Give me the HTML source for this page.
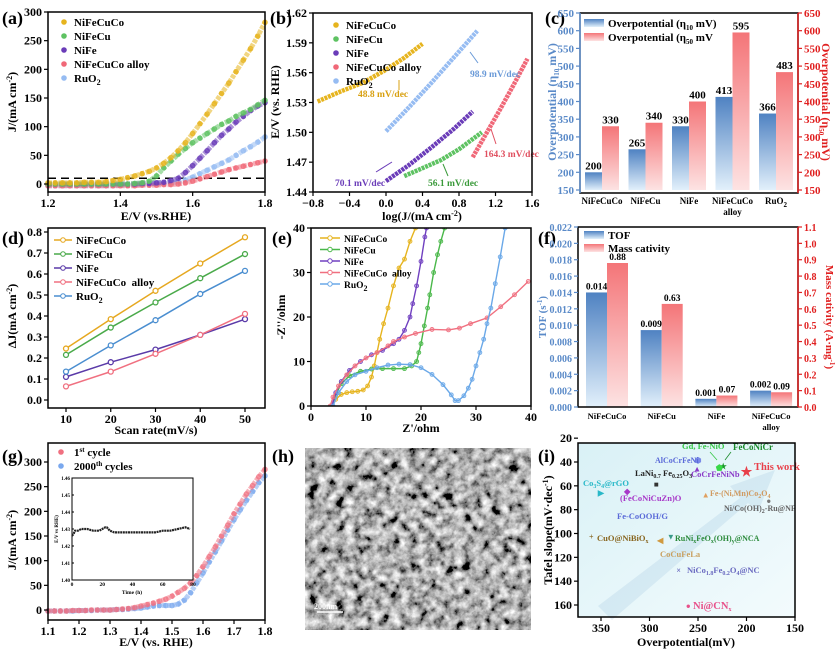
<!DOCTYPE html>
<html><head><meta charset="utf-8">
<style>
html,body{margin:0;padding:0;background:#fff;}
svg{display:block;font-family:"Liberation Serif",serif;font-weight:bold;}
text{font-family:"Liberation Serif",serif;font-weight:bold;}
</style></head>
<body>
<svg id="fig" width="836" height="652" viewBox="0 0 836 652" xmlns="http://www.w3.org/2000/svg">
<defs>
<linearGradient id="gBlue" x1="0" y1="0" x2="0" y2="1"><stop offset="0" stop-color="#4f82c2"/><stop offset="1" stop-color="#e2f0fb"/></linearGradient>
<linearGradient id="gPink" x1="0" y1="0" x2="0" y2="1"><stop offset="0" stop-color="#f47578"/><stop offset="1" stop-color="#fde3e3"/></linearGradient>
<linearGradient id="gBg" x1="0" y1="0" x2="1" y2="1"><stop offset="0" stop-color="#d9f1f6"/><stop offset="1" stop-color="#f3fbfd"/></linearGradient>
<filter id="sem" x="0" y="0" width="100%" height="100%">
<feTurbulence type="fractalNoise" baseFrequency="0.11" numOctaves="4" seed="7"/>
<feColorMatrix type="matrix" values="0.33 0.33 0.33 0 0  0.33 0.33 0.33 0 0  0.33 0.33 0.33 0 0  0 0 0 0 1"/>
<feComponentTransfer><feFuncR type="linear" slope="3.0" intercept="-1.05"/><feFuncG type="linear" slope="3.0" intercept="-1.05"/><feFuncB type="linear" slope="3.0" intercept="-1.05"/></feComponentTransfer>
</filter>
</defs>
</svg>
<script>
// ---------- data ----------
const aE=[1.20,1.22,1.24,1.26,1.28,1.30,1.32,1.34,1.36,1.38,1.40,1.42,1.44,1.46,1.48,1.50,1.52,1.54,1.56,1.58,1.60,1.62,1.64,1.66,1.68,1.70,1.72,1.74,1.76,1.78,1.80];
const aNiFeCuCo=[2,2,2,2,2,3,3,3,4,6,8,11,14,18,22,28,36,46,58,72,88,105,122,140,158,176,196,216,236,258,282];
const aNiFeCu=[0,0,0,0,0,0,0,0,0,0,0,0,1,2,5,14,28,40,52,62,72,80,88,96,104,110,118,124,130,138,146];
const aNiFe=[0,0,0,0,0,0,0,0,0,0,0,0,0,1,1,2,3,6,10,20,32,45,58,72,85,96,108,118,128,136,142];
const aAlloy=[-3,-3,-3,-3,-3,-3,-3,-3,-3,-3,-3,-3,-3,-2,-2,-2,-1,-1,0,2,5,9,13,17,21,25,28,31,34,37,40];
const aRuO2=[-3,-3,-3,-3,-3,-3,-3,-3,-3,-3,-2,-2,-1,-1,0,1,1,2,4,7,12,18,24,30,36,42,50,58,65,73,82];

const bNiFeCuCoX=[-0.75,-0.5,-0.25,0,0.2,0.4], bNiFeCuCoY=[1.531,1.541,1.550,1.563,1.575,1.589];
const bRuO2X=[0,0.25,0.5,0.75,1.0], bRuO2Y=[1.501,1.525,1.550,1.576,1.602];
const bNiFeX=[0,0.25,0.5,0.75,0.95], bNiFeY=[1.451,1.467,1.485,1.504,1.521];
const bNiFeCuX=[0.2,0.4,0.6,0.8,1.05], bNiFeCuY=[1.456,1.464,1.472,1.483,1.500];
const bAlloyX=[0.95,1.1,1.25,1.4,1.55], bAlloyY=[1.475,1.499,1.523,1.548,1.574];

const cCats=["NiFeCuCo","NiFeCu","NiFe","NiFeCuCo","RuO2"];
const cEta10=[200,265,330,413,366];
const cEta50=[330,340,400,595,483];

const dScan=[10,20,30,40,50];
const dNiFeCuCo=[0.245,0.385,0.52,0.65,0.775];
const dNiFeCu=[0.215,0.345,0.465,0.58,0.695];
const dNiFe=[0.11,0.18,0.24,0.31,0.385];
const dAlloy=[0.065,0.135,0.22,0.31,0.41];
const dRuO2=[0.135,0.26,0.38,0.505,0.615];

const eNiFeCuCo=[[3.8,0],[4.5,1.5],[5.5,2.6],[6.5,3],[7.5,3.2],[8.5,3.3],[9.5,3.6],[10.3,4.5],[11,6.5],[11.5,9],[12,12],[12.5,15],[13.2,18.5],[14,22],[15,27],[16,31],[17,33],[18,37],[19,40]];
const eNiFeCu=[[3.8,0],[4.5,2.5],[5.5,5],[7,6.8],[9,7.8],[11,8.3],[13,8.4],[15,8.4],[17,8.4],[18.3,9],[19.2,10],[19.6,12],[20,14],[20.6,18],[21.2,22],[21.6,25],[22.3,30],[23,34],[23.6,37],[24.3,40]];
const eNiFe=[[3.8,0],[4.5,3],[5.5,5.5],[7,8],[9,10],[11,11.5],[13,12.5],[15,14],[16,15],[17,17],[18,20],[18.5,23],[19.2,27],[20,32.5],[20.7,38],[21,40]];
const eAlloy=[[3.5,0],[4,2],[5,4.5],[6.5,7],[8,9],[10,10.8],[12,12],[14,13.5],[15,14.5],[17,15.5],[19,16.3],[22,17.2],[25,17.1],[27,17.5],[29,18.5],[32,19.8],[34.5,22.3],[37,25],[39.5,28]];
const eRuO2=[[4,0],[5,3],[6.5,5.5],[8,7],[10,7.8],[12,8.6],[14,9.2],[16,9.4],[18,9.3],[20,8.6],[22,7.1],[24,4.8],[25.5,2.5],[26.2,1.2],[26.8,1.2],[27.8,2.3],[28.6,4],[29.3,6],[30,9],[30.7,12],[31.4,15],[32,18.5],[32.7,22],[33.5,27.5],[34.4,33.5],[35.3,40]];

const fCats=["NiFeCuCo","NiFeCu","NiFe","NiFeCuCo"];
const fTOF=[0.014,0.0094,0.001,0.002];
const fTOFLab=["0.014","0.009","0.001","0.002"];
const fMass=[0.88,0.63,0.07,0.09];
const fMassLab=["0.88","0.63","0.07","0.09"];

const gE=[1.10,1.12,1.14,1.16,1.18,1.20,1.22,1.24,1.26,1.28,1.30,1.32,1.34,1.36,1.38,1.40,1.42,1.44,1.46,1.48,1.50,1.52,1.54,1.56,1.58,1.60,1.62,1.64,1.66,1.68,1.70,1.72,1.74,1.76,1.78,1.80];
const g1st=[-2,-2,-2,-2,-1,-1,-1,0,0,0,0,1,2,3,5,8,11,14,18,22,28,36,44,55,70,88,108,128,150,172,195,215,235,252,270,285];
const g2000=[-2,-2,-2,-2,-2,-1,-1,-1,0,0,0,1,1,2,3,4,6,8,9,9,9,12,20,35,55,75,97,118,140,162,183,203,222,240,258,272];
const gInT=[0,1,2,4,6,10,14,18,20,22,23,25,28,32,36,40,45,50,55,60,65,70,75,78];
const gInV=[1.426,1.427,1.429,1.429,1.430,1.430,1.429,1.429,1.430,1.431,1.431,1.429,1.428,1.428,1.428,1.428,1.428,1.428,1.428,1.429,1.429,1.430,1.431,1.430];

const iEta=[200,224,228,250,251,293,350,323,242,177,360,278,289,270,260];
const iTafel=[49,43,44,38,45,58,65,64,67,72,102,102,105,130,160];
const iGlyph=["★","★","⬟","⬢","▲","■","▶","◆","▲","●","+","▼","◀","×","●"];
const iColor=["#e8404a","#1a9a2a","#38d848","#7a8ae8","#8a3ac8","#333333","#28b8c8","#a838c8","#e0a060","#777777","#886620","#3a9a8a","#d09a40","#6a6ac0","#e8508a"];

// ---------- helpers ----------
const NS='http://www.w3.org/2000/svg';
const svg=document.getElementById('fig');
function el(tag,attrs,parent,txt){const e=document.createElementNS(NS,tag);for(const k in attrs)e.setAttribute(k,attrs[k]);if(txt!==undefined)e.textContent=txt;(parent||svg).appendChild(e);return e;}
function lin(d0,d1,r0,r1){return v=>r0+(v-d0)*(r1-r0)/(d1-d0);}
function grp(name){const g=el('g',{});return g;}
function frame(g,x0,y0,x1,y1){const r=el('rect',{x:x0,y:y0,width:x1-x0,height:y1-y0,fill:'none',stroke:'#000','stroke-width':1.5},g);}
function xTicks(g,sx,vals,labs,yb,fs,col){vals.forEach((v,i)=>{const x=sx(v);el('line',{x1:x,x2:x,y1:yb,y2:yb+4,stroke:col||'#000','stroke-width':1.2},g);const t=el('text',{x:x,y:yb+15,'text-anchor':'middle','font-size':fs||12,fill:col||'#000'},g,labs[i]);});}
function yTicks(g,sy,vals,labs,xl,side,fs,col){vals.forEach((v,i)=>{const y=sy(v);const d=side==='r'?4:-4;el('line',{x1:xl,x2:xl+d,y1:y,y2:y,stroke:col||'#000','stroke-width':1.2},g);const t=el('text',{x:xl+(side==='r'?6:-6),y:y+4,'text-anchor':side==='r'?'start':'end','font-size':fs||12,fill:col||'#000'},g,labs[i]);});}
function label(g,x,y,txt,fs,name,extra){const t=el('text',Object.assign({x:x,y:y,'font-size':fs},extra||{}),g);t.innerHTML=txt;return t;}
function rotLabel(g,x,y,txt,fs,name,col){return label(g,x,y,txt,fs,name,{transform:`rotate(-90 ${x} ${y})`,'text-anchor':'middle',fill:col||'#000'});}
function range(a,b,s){const r=[];for(let v=a;v<=b+1e-9;v+=s)r.push(+v.toFixed(6));return r;}
function beads(g,pts,col){const p=el('polyline',{points:pts,fill:'none',stroke:col,'stroke-width':5,'stroke-opacity':0.55,'stroke-dasharray':'4 1.2','stroke-linejoin':'round'},g);}

// ---------- (a) ----------
(function(){
const g=grp('panel-a-lsv');
const sx=lin(1.2,1.8,48,265), sy=lin(0,300,184,12);
label(g,2,24,'(a)',18,'panel-label-a');
const series=[[aNiFeCuCo,'#e6b41e','NiFeCuCo'],[aNiFeCu,'#5ec262','NiFeCu'],[aNiFe,'#6a3cb8','NiFe'],[aAlloy,'#f06878','NiFeCuCo alloy'],[aRuO2,'#96bcf2','RuO<tspan font-size="8" dy="3">2</tspan>']];
const dash=el('line',{x1:48,x2:265,y1:sy(10),y2:sy(10),stroke:'#000','stroke-width':1.5,'stroke-dasharray':'8 5'},g);


series.slice().reverse().forEach((s)=>{const sg=grp('series');g.appendChild(sg);beads(sg,s[0].map((v,i)=>sx(aE[i])+','+sy(v)).join(' '),s[1]);s[0].forEach((v,i)=>{const c=el('circle',{cx:sx(aE[i]),cy:sy(v),r:2.8,fill:s[1],'fill-opacity':0.85},sg);});});
series.forEach((s,k)=>{const ly=26+k*14;el('circle',{cx:64,cy:ly-4,r:2.8,fill:s[1]},g);label(g,74,ly,s[2],11,'legend-entry');});
frame(g,48,12,265,192);
xTicks(g,sx,[1.2,1.4,1.6,1.8],['1.2','1.4','1.6','1.8'],192,12);
yTicks(g,sy,range(0,300,50),range(0,300,50).map(String),48,'l',12);
label(g,156,220,'E/V (vs.RHE)',12,'x-axis-title',{'text-anchor':'middle'});
rotLabel(g,16,102,'J/(mA cm<tspan font-size="8" dy="-4">-2</tspan><tspan dy="4">)</tspan>',12,'y-axis-title');
})();

// ---------- (b) ----------
(function(){
const g=grp('panel-b-tafel');
const sx=lin(-0.8,1.6,313,532), sy=lin(1.44,1.62,192,13);
label(g,270,24,'(b)',18,'panel-label-b');
const ser=[[bNiFeCuCoX,bNiFeCuCoY,'#e6b41e','NiFeCuCo'],[bNiFeCuX,bNiFeCuY,'#5ec262','NiFeCu'],[bNiFeX,bNiFeY,'#6a3cb8','NiFe'],[bAlloyX,bAlloyY,'#f06878','NiFeCuCo alloy'],[bRuO2X,bRuO2Y,'#96bcf2','RuO<tspan font-size="8" dy="3">2</tspan>']];
ser.forEach((s,k)=>{const p=el('polyline',{points:s[0].map((x,i)=>sx(x)+','+sy(s[1][i])).join(' '),fill:'none',stroke:s[2],'stroke-width':4.5,'stroke-dasharray':'3 0.8'},g);
 const ly=29+k*14;el('circle',{cx:336,cy:ly-4,r:2.8,fill:s[2]},g);label(g,346,ly,s[3],11,'legend-entry');});
label(g,358,97,'48.8 mV/dec',9.5,'slope-annotation',{fill:'#d8a010'});
el('line',{x1:399,y1:80,x2:399,y2:90,stroke:'#d8a010','stroke-width':1},g);
label(g,470,77,'98.9 mV/dec',9.5,'slope-annotation',{fill:'#6a9ad8'});
el('line',{x1:470,y1:52,x2:478,y2:63,stroke:'#6a9ad8','stroke-width':1},g);
label(g,335,186,'70.1 mV/dec',9.5,'slope-annotation',{fill:'#6a3cb8'});
el('line',{x1:392,y1:162,x2:376,y2:172,stroke:'#6a3cb8','stroke-width':1},g);
label(g,428,186,'56.1 mV/dec',9.5,'slope-annotation',{fill:'#3a9a3a'});
el('line',{x1:443,y1:164,x2:448,y2:176,stroke:'#3a9a3a','stroke-width':1},g);
label(g,484,157,'164.3 mV/dec',9.5,'slope-annotation',{fill:'#e05060'});
el('line',{x1:491,y1:129,x2:496,y2:144,stroke:'#e05060','stroke-width':1},g);
frame(g,313,13,532,192);
xTicks(g,sx,[-0.8,-0.4,0,0.4,0.8,1.2,1.6],['−0.8','−0.4','0.0','0.4','0.8','1.2','1.6'],192,12);
yTicks(g,sy,[1.44,1.47,1.50,1.53,1.56,1.59,1.62],['1.44','1.47','1.50','1.53','1.56','1.59','1.62'],313,'l',12);
label(g,422,220,'log(J/(mA cm<tspan font-size="8" dy="-4">-2</tspan><tspan dy="4">)</tspan>',12,'x-axis-title',{'text-anchor':'middle'});
rotLabel(g,279,102,'E/V (vs. RHE)',12,'y-axis-title');
})();

// ---------- (c) ----------
(function(){
const g=grp('panel-c-overpotential');
const sy=lin(150,650,190,13); const cx=i=>602+i*43.5; const bw=17;
label(g,545,24,'(c)',18,'panel-label-c');
cCats.forEach((c,i)=>{
 let r=el('rect',{x:cx(i)-bw,y:sy(cEta10[i]),width:bw,height:190-sy(cEta10[i]),fill:'url(#gBlue)'},g);
 
 
 r=el('rect',{x:cx(i),y:sy(cEta50[i]),width:bw,height:190-sy(cEta50[i]),fill:'url(#gPink)'},g);
 
 
 label(g,cx(i)-bw/2,sy(cEta10[i])-3,String(cEta10[i]),11,'value-label',{'text-anchor':'middle'});
 label(g,cx(i)+bw/2,sy(cEta50[i])-3,String(cEta50[i]),11,'value-label',{'text-anchor':'middle'});
 const nm=c==='RuO2'?'RuO<tspan font-size="7" dy="3">2</tspan>':c;
 label(g,cx(i),204,nm,9,'category-label',{'text-anchor':'middle'});
});
label(g,cx(3),215,'alloy',9,'category-label',{'text-anchor':'middle'});
el('rect',{x:584,y:19,width:20,height:8,fill:'url(#gBlue)'},g);
label(g,608,27,'Overpotential (η<tspan font-size="7" dy="3">10</tspan><tspan dy="-3"> mV)</tspan>',11,'legend-entry');
el('rect',{x:584,y:33,width:20,height:8,fill:'url(#gPink)'},g);
label(g,608,41,'Overpotential (η<tspan font-size="7" dy="3">50</tspan><tspan dy="-3"> mV</tspan>',11,'legend-entry');
frame(g,580,13,798,193);
el('line',{x1:798,y1:13,x2:798,y2:193,stroke:'#e02020','stroke-width':1.5},g);
el('line',{x1:580,y1:13,x2:580,y2:193,stroke:'#6a9ad8','stroke-width':1.5},g);
const tv=range(150,650,50);
yTicks(g,sy,tv,tv.map(String),580,'l',11,'#5a8ac8');
yTicks(g,sy,tv,tv.map(String),798,'r',11,'#e02020');
rotLabel(g,556,102,'Overpotential (η<tspan font-size="7" dy="3">10</tspan><tspan dy="-3"> mV)</tspan>',12,'left-y-axis-title','#5a8ac8');
label(g,822,102,'Overpotential (η<tspan font-size="7" dy="3">50</tspan><tspan dy="-3"> mV)</tspan>',12,'right-y-axis-title',{transform:'rotate(90 822 102)','text-anchor':'middle',fill:'#e02020'});
})();

// ---------- (d) ----------
(function(){
const g=grp('panel-d-cdl');
const sx=lin(10,50,66,245), sy=lin(0,0.8,400,232);
label(g,2,244,'(d)',18,'panel-label-d');
const ser=[[dNiFeCuCo,'#e6a820','NiFeCuCo'],[dNiFeCu,'#4aaa4a','NiFeCu'],[dNiFe,'#5a3aa8','NiFe'],[dAlloy,'#f07080','NiFeCuCo&#160;&#160;alloy'],[dRuO2,'#4a8ed0','RuO<tspan font-size="8" dy="3">2</tspan>']];
ser.forEach((s,k)=>{const p=el('polyline',{points:dScan.map((x,i)=>sx(x)+','+sy(s[0][i])).join(' '),fill:'none',stroke:s[1],'stroke-width':1.5},g);
 s[0].forEach((v,i)=>{const c=el('circle',{cx:sx(dScan[i]),cy:sy(v),r:2.5,fill:'#fff',stroke:s[1],'stroke-width':1.3},g);});
 const ly=244+k*14;el('line',{x1:54,x2:72,y1:ly-4,y2:ly-4,stroke:s[1],'stroke-width':1.5},g);el('circle',{cx:63,cy:ly-4,r:2.3,fill:'#fff',stroke:s[1]},g);label(g,76,ly,s[2],11,'legend-entry');});
frame(g,48,228,265,408);
xTicks(g,sx,dScan,dScan.map(String),408,12);
const tv=range(0,0.8,0.1);
yTicks(g,sy,tv,tv.map(v=>v.toFixed(1)),48,'l',12);
label(g,156,434,'Scan rate(mV/s)',12,'x-axis-title',{'text-anchor':'middle'});
rotLabel(g,16,316,'ΔJ(mA cm<tspan font-size="8" dy="-4">-2</tspan><tspan dy="4">)</tspan>',12,'y-axis-title');
})();

// ---------- (e) ----------
(function(){
const g=grp('panel-e-nyquist');
const sx=lin(0,40,311,531), sy=lin(0,40,406,228);
label(g,272,244,'(e)',18,'panel-label-e');
const cp=el('clipPath',{id:'clipE'},g);el('rect',{x:311,y:228,width:220,height:178},cp);
const ser=[[eNiFeCuCo,'#e6b41e','NiFeCuCo'],[eNiFeCu,'#4ab84a','NiFeCu'],[eNiFe,'#7040c0','NiFe'],[eAlloy,'#f07080','NiFeCuCo&#160;&#160;alloy'],[eRuO2,'#6aa8e8','RuO<tspan font-size="8" dy="3">2</tspan>']];
const pg=el('g',{'clip-path':'url(#clipE)'},g);
ser.forEach((s,k)=>{const p=el('polyline',{points:s[0].map(d=>sx(d[0])+','+sy(d[1])).join(' '),fill:'none',stroke:s[1],'stroke-width':1.4},pg);
 s[0].forEach(d=>{const c=el('circle',{cx:sx(d[0]),cy:sy(d[1]),r:2,fill:s[1],'fill-opacity':0.45,stroke:s[1],'stroke-width':0.8},pg);});
 const ly=242+k*11.5;el('line',{x1:320,x2:340,y1:ly-4,y2:ly-4,stroke:s[1],'stroke-width':1.4},g);el('circle',{cx:330,cy:ly-4,r:2.2,fill:'#fff',stroke:s[1]},g);label(g,344,ly,s[2],9.5,'legend-entry');});
frame(g,311,228,531,406);
const xv=[0,10,20,30,40];
xTicks(g,sx,xv,xv.map(String),406,12);
yTicks(g,sy,xv,xv.map(String),311,'l',12);
label(g,421,432,"Z'/ohm",12,'x-axis-title',{'text-anchor':'middle'});
rotLabel(g,285,317,"-Z''/ohm",12,'y-axis-title');
})();

// ---------- (f) ----------
(function(){
const g=grp('panel-f-tof');
const syL=lin(0,0.022,407,227), syR=lin(0,1.1,407,227); const cx=i=>607+i*54.7; const bw=21;
label(g,538,244,'(f)',18,'panel-label-f');
fCats.forEach((c,i)=>{
 let r=el('rect',{x:cx(i)-bw,y:syL(fTOF[i]),width:bw,height:407-syL(fTOF[i]),fill:'url(#gBlue)'},g);
 
 
 r=el('rect',{x:cx(i),y:syR(fMass[i]),width:bw,height:407-syR(fMass[i]),fill:'url(#gPink)'},g);
 
 
 label(g,cx(i)-bw/2,syL(fTOF[i])-3,fTOFLab[i],9.5,'value-label',{'text-anchor':'middle'});
 label(g,cx(i)+bw/2,syR(fMass[i])-3,fMassLab[i],9.5,'value-label',{'text-anchor':'middle'});
 label(g,cx(i),419,c,8.5,'category-label',{'text-anchor':'middle'});
});
label(g,cx(3),430,'alloy',8.5,'category-label',{'text-anchor':'middle'});
el('rect',{x:584,y:231,width:20,height:8,fill:'url(#gBlue)'},g);
label(g,608,239,'TOF',11,'legend-entry');
el('rect',{x:584,y:244,width:20,height:8,fill:'url(#gPink)'},g);
label(g,608,252,'Mass cativity',11,'legend-entry');
frame(g,578,227,798,407);
el('line',{x1:798,y1:227,x2:798,y2:407,stroke:'#e02020','stroke-width':1.5},g);
const tl=range(0,0.022,0.002), tr=range(0,1.1,0.1);
yTicks(g,syL,tl,tl.map(v=>v.toFixed(3)),578,'l',10,'#5a8ac8');
yTicks(g,syR,tr,tr.map(v=>v.toFixed(1)),798,'r',10,'#e02020');
rotLabel(g,546,317,'TOF (s<tspan font-size="7" dy="-4">-1</tspan><tspan dy="4">)</tspan>',11,'left-y-axis-title','#5a8ac8');
label(g,826,317,'Mass cativity (A·mg<tspan font-size="7" dy="-4">-1</tspan><tspan dy="4">)</tspan>',11,'right-y-axis-title',{transform:'rotate(90 826 317)','text-anchor':'middle',fill:'#e02020'});
})();

// ---------- (g) ----------
(function(){
const g=grp('panel-g-stability');
const sx=lin(1.1,1.8,48,265), sy=lin(0,300,610,462);
label(g,2,462,'(g)',18,'panel-label-g');
[[g2000,'#7aa8ee'],[g1st,'#f07080']].forEach((s,k)=>{const sg=grp('series-'+(k?'1st':'2000th'));g.appendChild(sg);beads(sg,s[0].map((v,i)=>sx(gE[i])+','+sy(v)).join(' '),s[1]);s[0].forEach((v,i)=>{const c=el('circle',{cx:sx(gE[i]),cy:sy(v),r:2.8,fill:s[1],'fill-opacity':0.75},sg);});});
el('circle',{cx:61,cy:452,r:2.8,fill:'#f07080'},g);label(g,74,456,'1<tspan font-size="7" dy="-4">st</tspan><tspan dy="4"> cycle</tspan>',11,'legend-entry');
el('circle',{cx:61,cy:466,r:2.8,fill:'#7aa8ee'},g);label(g,74,470,'2000<tspan font-size="7" dy="-4">th</tspan><tspan dy="4"> cycles</tspan>',11,'legend-entry');
// inset
const ix=lin(0,80,72,193), iy=lin(1.40,1.46,580,478);
const ig=grp('inset-chronopotentiometry');g.appendChild(ig);
el('rect',{x:72,y:478,width:121,height:102,fill:'#fff',stroke:'#000','stroke-width':1},ig);
const pl=el('polyline',{points:gInT.map((t,i)=>ix(t)+','+iy(gInV[i])).join(' '),fill:'none',stroke:'#222','stroke-width':2.2,'stroke-dasharray':'2 0.6'},ig);


const iyv=[1.40,1.41,1.42,1.43,1.44,1.45,1.46];
iyv.forEach(v=>{el('line',{x1:72,x2:74,y1:iy(v),y2:iy(v),stroke:'#000'},ig);el('text',{x:70,y:iy(v)+2,'text-anchor':'end','font-size':5},ig,v.toFixed(2));});
[0,20,40,60,80].forEach(v=>{el('text',{x:ix(v),y:586,'text-anchor':'middle','font-size':5.5},ig,String(v));});
label(ig,132,594,'Time (h)',5.5,'inset-x-title',{'text-anchor':'middle'});
rotLabel(ig,58,529,'E/V vs RHE)',5,'inset-y-title');
frame(g,48,443,265,620);
xTicks(g,sx,range(1.1,1.8,0.1),range(1.1,1.8,0.1).map(v=>v.toFixed(1)),620,12);
const tv=range(0,300,50);
yTicks(g,sy,tv,tv.map(String),48,'l',12);
label(g,156,646,'E/V (vs. RHE)',12,'x-axis-title',{'text-anchor':'middle'});
rotLabel(g,16,540,'J/(mA cm<tspan font-size="8" dy="-4">-2</tspan><tspan dy="4">)</tspan>',12,'y-axis-title');
})();

// ---------- (h) ----------
(function(){
const g=grp('panel-h-sem');
label(g,272,462,'(h)',18,'panel-label-h');
el('rect',{x:305,y:448,width:226,height:182,fill:'#555'},g);
const r=el('rect',{x:305,y:448,width:226,height:182,fill:'#666',filter:'url(#sem)'},g);


el('line',{x1:317,x2:343,y1:612,y2:612,stroke:'#fff','stroke-width':1.5},g);
label(g,314,609,'200nm',8,'scale-bar-label',{fill:'#fff'});
})();

// ---------- (i) ----------
(function(){
const g=grp('panel-i-comparison');
const sx=lin(350,150,601,795), sy=lin(40,160,462,605);
label(g,538,462,'(i)',18,'panel-label-i');
el('rect',{x:578,y:443,width:217,height:174,fill:'url(#gBg)'},g);
const ar=el('polygon',{points:'598,606 740,498 730,486 775,470 758,512 748,503 612,620',fill:'#8ab8d8','fill-opacity':0.2},g);


const labs=[['This work',754,470,'#e8404a',10.5],['FeCoNiCr',733,450,'#1a8a2a',9],['Gd, Fe-NiO',682,449,'#38c848',8.5],['AlCoCrFeNi',655,463,'#5a6ad8',8],['CoCrFeNiNb',691,477,'#8a3ac8',8.5],['LaNi<tspan font-size="6" dy="2">0.7</tspan><tspan dy="-2"> Fe</tspan><tspan font-size="6" dy="2">0.25</tspan><tspan dy="-2">O</tspan><tspan font-size="6" dy="2">3</tspan>',635,476,'#222',8.5],['Co<tspan font-size="6" dy="2">3</tspan><tspan dy="-2">S</tspan><tspan font-size="6" dy="2">4</tspan><tspan dy="-2">@rGO</tspan>',583,486,'#28b8c8',8.5],['(FeCoNiCuZn)O',620,501,'#a838c8',8.5],['Fe-(Ni,Mn)Co<tspan font-size="6" dy="2">2</tspan><tspan dy="-2">O</tspan><tspan font-size="6" dy="2">4</tspan>',710,496,'#d09a60',8],['Ni/Co(OH)<tspan font-size="6" dy="2">2</tspan><tspan dy="-2">-Ru@NF</tspan>',724,511,'#666',8],['Fe-CoOOH/G',617,519,'#5a6ad8',8.5],['CuO@NiBiO<tspan font-size="6" dy="2">x</tspan>',597,541,'#886620',8.5],['RuNi<tspan font-size="6" dy="2">x</tspan><tspan dy="-2">FeO</tspan><tspan font-size="6" dy="2">x</tspan><tspan dy="-2">(OH)</tspan><tspan font-size="6" dy="2">y</tspan><tspan dy="-2">@NCA</tspan>',675,541,'#2a8a3a',8],['CoCuFeLa',660,557,'#c8a060',8.5],['NiCo<tspan font-size="6" dy="2">1.8</tspan><tspan dy="-2">Fe</tspan><tspan font-size="6" dy="2">0.2</tspan><tspan dy="-2">O</tspan><tspan font-size="6" dy="2">4</tspan><tspan dy="-2">@NC</tspan>',687,573,'#6a6ac0',8.5],['Ni@CN<tspan font-size="6" dy="2">x</tspan>',693,609,'#e8508a',10.5]];
iEta.forEach((e,k)=>{const t=el('text',{x:sx(e),y:sy(iTafel[k])+3.5,'text-anchor':'middle','font-size':k<1?13:8,fill:iColor[k],'font-family':'DejaVu Sans, sans-serif'},g,iGlyph[k]);});
labs.forEach(l=>{label(g,l[1],l[2],l[0],l[4],'point-label',{fill:l[3]});});
el('line',{x1:710,y1:452,x2:717,y2:460,stroke:'#38c848','stroke-width':0.8},g);
el('line',{x1:731,y1:452,x2:725,y2:460,stroke:'#1a8a2a','stroke-width':0.8},g);
frame(g,578,443,795,617);
xTicks(g,sx,[350,300,250,200,150],['350','300','250','200','150'],617,12);
const tv=[20,40,60,80,100,120,140,160];
yTicks(g,sy,tv,tv.map(String),578,'l',12);
label(g,686,646,'Overpotential(mV)',12,'x-axis-title',{'text-anchor':'middle'});
rotLabel(g,552,530,'Tafel slope(mV·dec<tspan font-size="8" dy="-4">-1</tspan><tspan dy="4">)</tspan>',12,'y-axis-title');
})();
</script>
</body></html>
